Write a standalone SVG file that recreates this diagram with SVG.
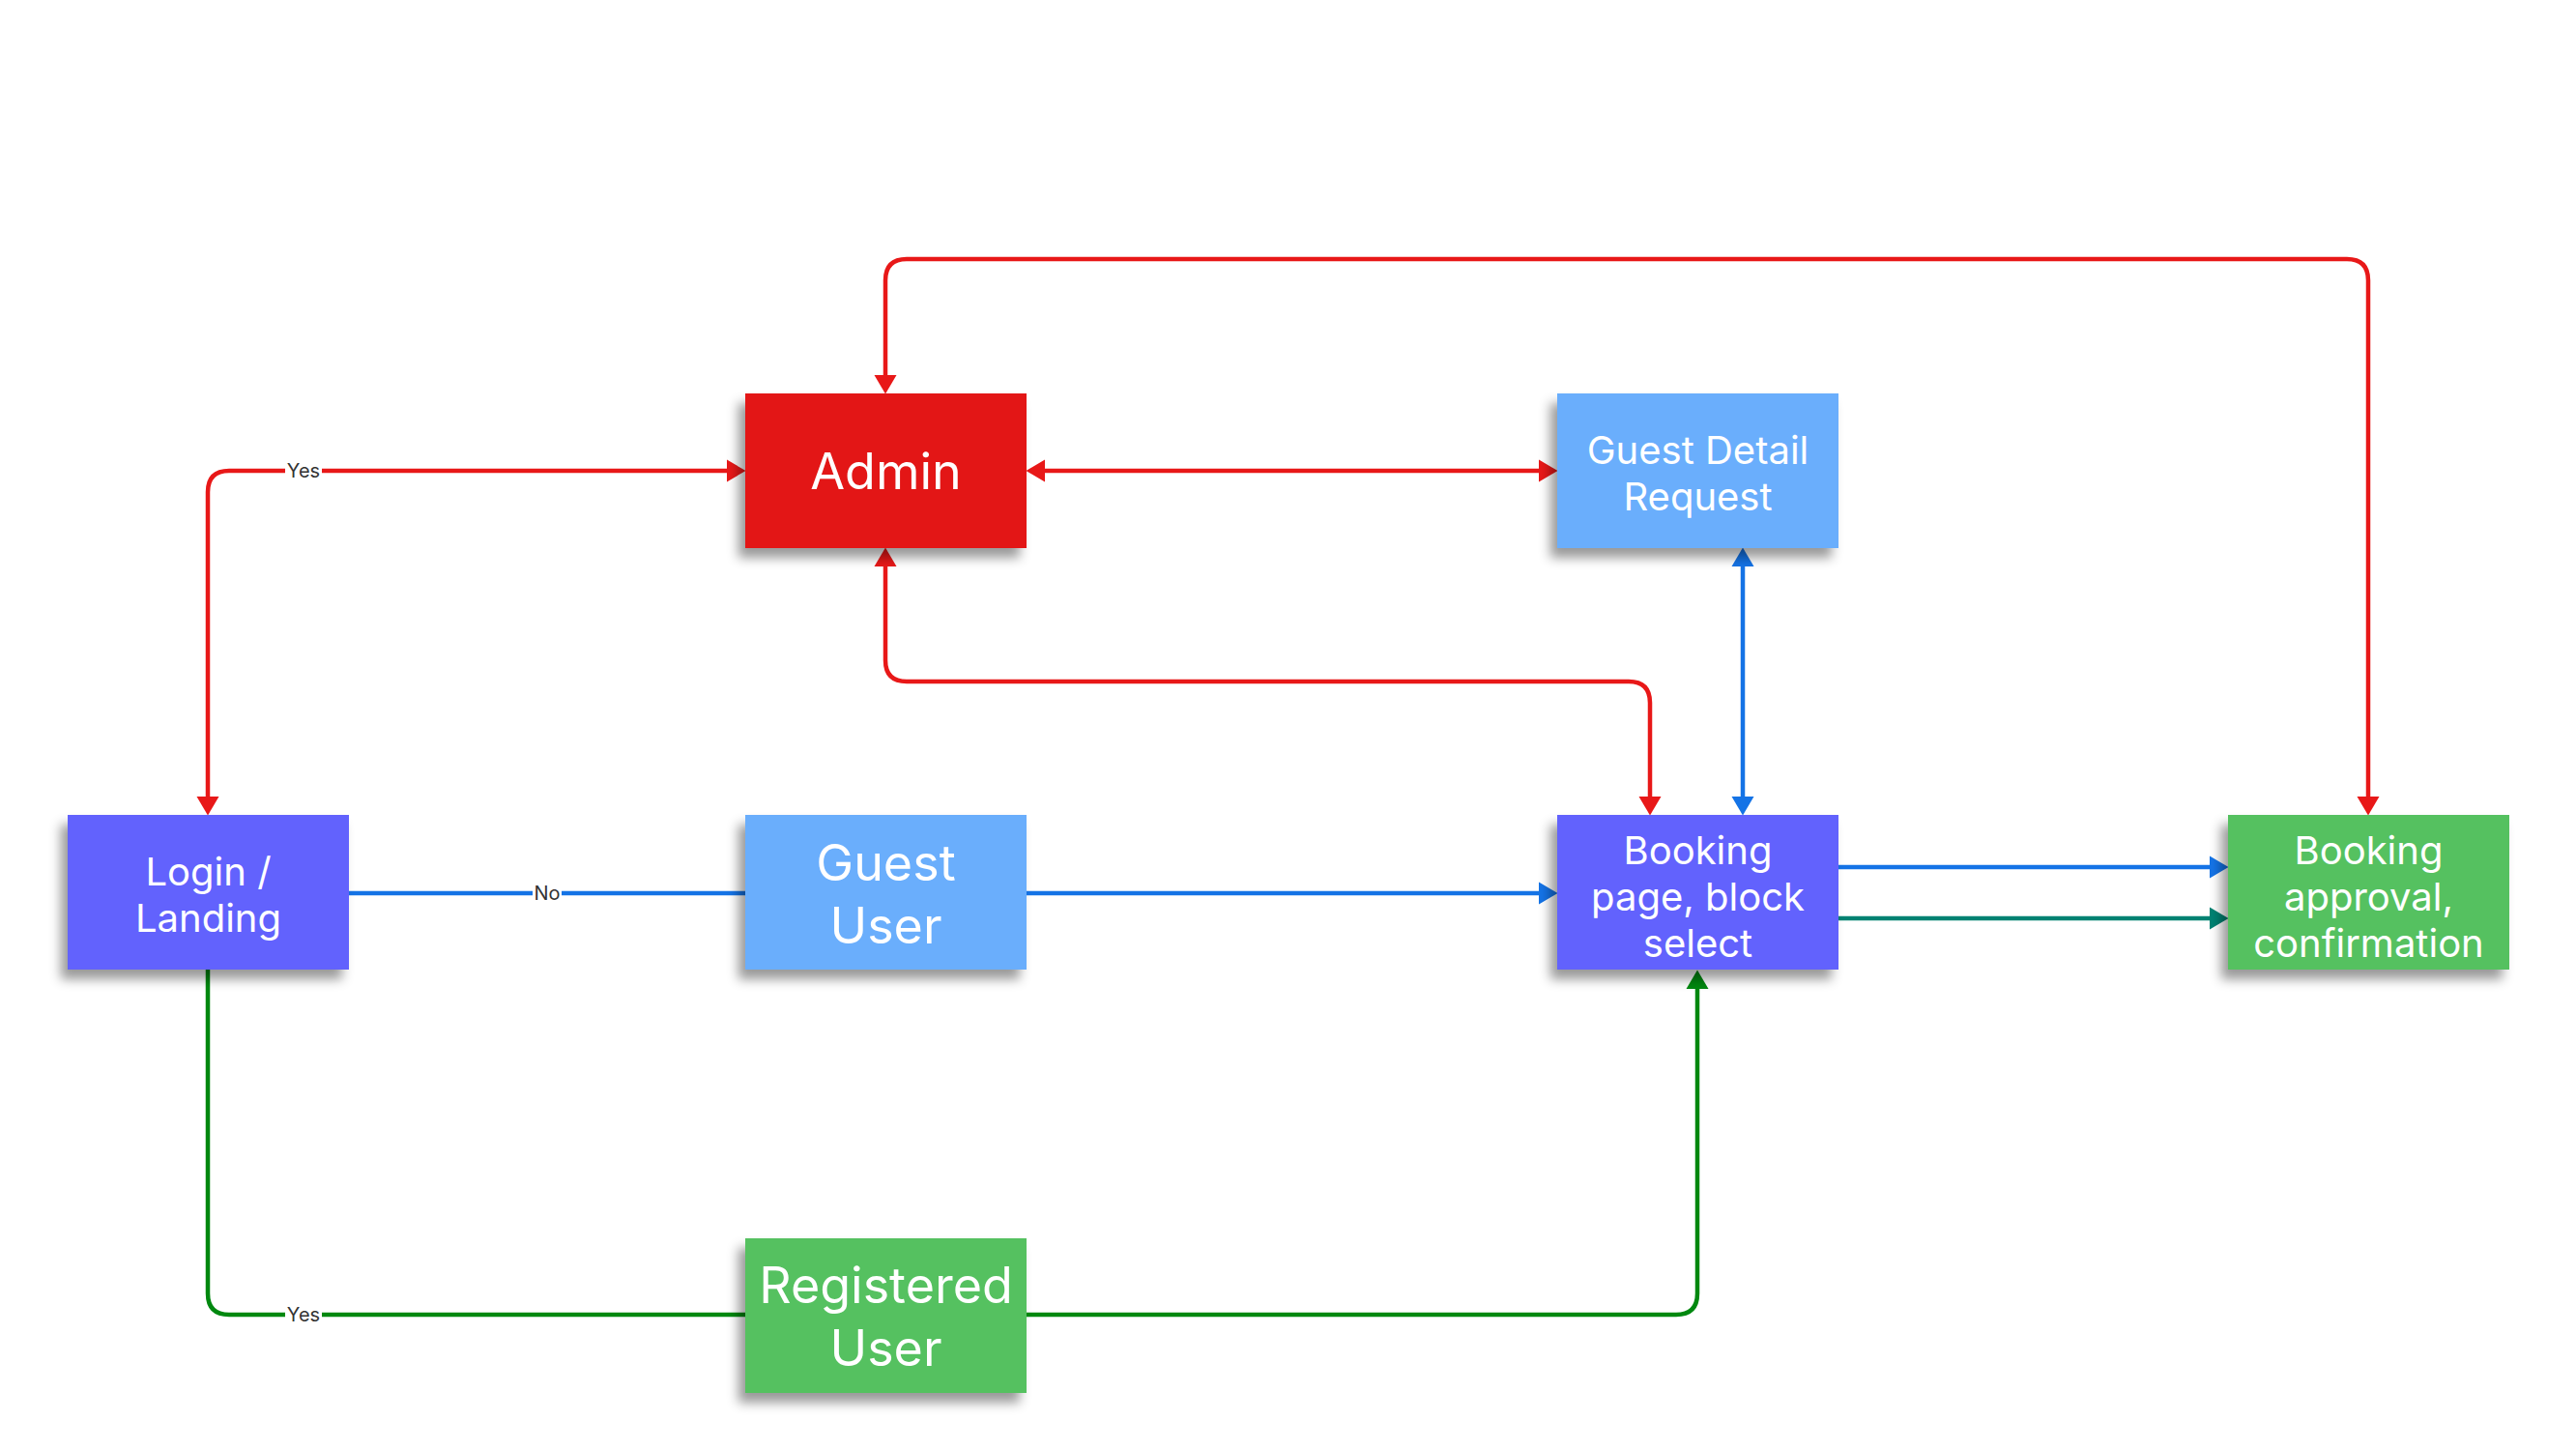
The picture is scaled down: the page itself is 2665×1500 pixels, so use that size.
<svg xmlns="http://www.w3.org/2000/svg" width="2665" height="1500" viewBox="0 0 2665 1500">
<style>
.node text{font-family:Inter,"Noto Sans","Liberation Sans",sans-serif;fill:#ffffff;text-anchor:middle}
.t40{font-size:40px}
.t52{font-size:52px}
.box{filter:url(#sh)}
.c{fill:none;stroke-width:4.5}
.red{stroke:#E81818}
.blue{stroke:#1473E6}
.green{stroke:#00880F}
.teal{stroke:#008272}
.lbl{font-family:Inter,"Noto Sans","Liberation Sans",sans-serif;font-size:20px;fill:#333333;text-anchor:middle}
</style>
<defs>
<filter id="sh" x="-20%" y="-20%" width="140%" height="150%">
<feDropShadow dx="-7" dy="10" stdDeviation="6" flood-color="#000000" flood-opacity="0.4"/>
</filter>
<marker id="aR" markerUnits="userSpaceOnUse" markerWidth="20" markerHeight="24" viewBox="0 0 20 24" refX="9" refY="12" orient="auto-start-reverse"><path d="M0,0.5 L19.5,12 L0,23.5 z" fill="#E81818"/></marker>
<marker id="aB" markerUnits="userSpaceOnUse" markerWidth="20" markerHeight="24" viewBox="0 0 20 24" refX="9" refY="12" orient="auto-start-reverse"><path d="M0,0.5 L19.5,12 L0,23.5 z" fill="#1473E6"/></marker>
<marker id="aG" markerUnits="userSpaceOnUse" markerWidth="20" markerHeight="24" viewBox="0 0 20 24" refX="9" refY="12" orient="auto-start-reverse"><path d="M0,0.5 L19.5,12 L0,23.5 z" fill="#00880F"/></marker>
<marker id="aT" markerUnits="userSpaceOnUse" markerWidth="20" markerHeight="24" viewBox="0 0 20 24" refX="9" refY="12" orient="auto-start-reverse"><path d="M0,0.5 L19.5,12 L0,23.5 z" fill="#008272"/></marker>
</defs>
<rect width="2665" height="1500" fill="#ffffff"/>

<g id="connectors">
<path class="c red" d="M761,487 H237 Q215,487 215,509 V833" marker-start="url(#aR)" marker-end="url(#aR)"/>
<path class="c red" d="M1072,487 H1601" marker-start="url(#aR)" marker-end="url(#aR)"/>
<path class="c red" d="M916,577 V683 Q916,705 938,705 H1685 Q1707,705 1707,727 V833" marker-start="url(#aR)" marker-end="url(#aR)"/>
<path class="c red" d="M916,397 V290 Q916,268 938,268 H2428 Q2450,268 2450,290 V833" marker-start="url(#aR)" marker-end="url(#aR)"/>
<path class="c blue" d="M1803,577 V833" marker-start="url(#aB)" marker-end="url(#aB)"/>
<path class="c blue" d="M361,924 H771"/>
<path class="c blue" d="M1062,924 H1601" marker-end="url(#aB)"/>
<path class="c green" d="M215,1003 V1338 Q215,1360 237,1360 H771"/>
<path class="c green" d="M1062,1360 H1734 Q1756,1360 1756,1338 V1014" marker-end="url(#aG)"/>
<path class="c blue" d="M1902,897 H2295" marker-end="url(#aB)"/>
<path class="c teal" d="M1902,950 H2295" marker-end="url(#aT)"/>
<rect x="295" y="475" width="38" height="24" fill="#ffffff"/>
<text class="lbl" x="314" y="494">Yes</text>
<rect x="551" y="912" width="30" height="24" fill="#ffffff"/>
<text class="lbl" x="566" y="931">No</text>
<rect x="295" y="1348" width="38" height="24" fill="#ffffff"/>
<text class="lbl" x="314" y="1367">Yes</text>
</g>

<g id="admin" class="node">
<rect class="box" x="771" y="407" width="291" height="160" fill="#E31313"/>
<text class="t52" x="916.5" y="506">Admin</text>
</g>
<g id="guest-detail" class="node">
<rect class="box" x="1611" y="407" width="291" height="160" fill="#6AAEFC"/>
<text class="t40" x="1756.5" y="480">Guest Detail</text>
<text class="t40" x="1756.5" y="528">Request</text>
</g>
<g id="login" class="node">
<rect class="box" x="70" y="843" width="291" height="160" fill="#6262FD"/>
<text class="t40" x="215.5" y="916">Login /</text>
<text class="t40" x="215.5" y="964">Landing</text>
</g>
<g id="guest-user" class="node">
<rect class="box" x="771" y="843" width="291" height="160" fill="#6AAEFC"/>
<text class="t52" x="916.5" y="911">Guest</text>
<text class="t52" x="916.5" y="976">User</text>
</g>
<g id="booking-page" class="node">
<rect class="box" x="1611" y="843" width="291" height="160" fill="#6262FD"/>
<text class="t40" x="1756.5" y="894">Booking</text>
<text class="t40" x="1756.5" y="942">page, block</text>
<text class="t40" x="1756.5" y="990">select</text>
</g>
<g id="booking-approval" class="node">
<rect class="box" x="2305" y="843" width="291" height="160" fill="#55C160"/>
<text class="t40" x="2450.5" y="894">Booking</text>
<text class="t40" x="2450.5" y="942">approval,</text>
<text class="t40" x="2450.5" y="990">confirmation</text>
</g>
<g id="registered-user" class="node">
<rect class="box" x="771" y="1281" width="291" height="160" fill="#55C160"/>
<text class="t52" x="916.5" y="1348">Registered</text>
<text class="t52" x="916.5" y="1413">User</text>
</g>
</svg>
